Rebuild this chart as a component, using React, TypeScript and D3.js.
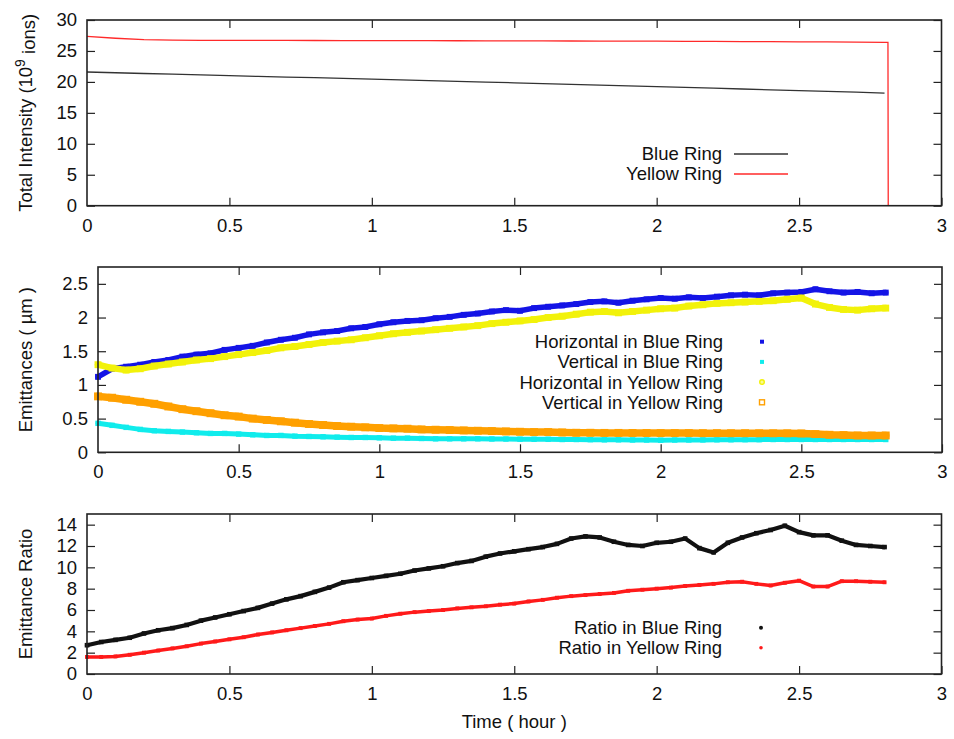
import React, { useEffect, useRef } from 'react';
import * as d3 from 'd3';

const FONT = '"Liberation Sans", Arial, Helvetica, sans-serif';

// ---- top panel: total intensity (10^9 ions)
const intensityHours = [0, 0.1, 0.2, 0.3, 0.4, 0.5, 0.6, 0.7, 0.8, 0.9, 1.0, 1.1, 1.2, 1.3, 1.4,
  1.5, 1.6, 1.7, 1.8, 1.9, 2.0, 2.1, 2.2, 2.3, 2.4, 2.5, 2.6, 2.7, 2.8];
const blueIntensity = [21.6, 21.48, 21.36, 21.24, 21.12, 21.0, 20.88, 20.78, 20.68, 20.57, 20.45,
  20.33, 20.21, 20.09, 19.97, 19.85, 19.72, 19.6, 19.48, 19.35, 19.23, 19.1, 18.98, 18.85, 18.72,
  18.6, 18.47, 18.34, 18.2];
const yellowIntensity = [27.35, 27.05, 26.82, 26.74, 26.72, 26.71, 26.7, 26.7, 26.69, 26.68, 26.68,
  26.67, 26.66, 26.65, 26.64, 26.63, 26.62, 26.61, 26.6, 26.59, 26.58, 26.56, 26.54, 26.52, 26.5,
  26.48, 26.46, 26.43, 26.4];
// beam dump at the end of the store
const dumpHours = [2.812, 2.813];
const dumpIntensity = [26.4, 0];

// ---- middle + bottom panels share one time grid
const hours = [0, 0.05, 0.1, 0.15, 0.2, 0.25, 0.3, 0.35, 0.4, 0.45, 0.5, 0.55, 0.6, 0.65, 0.7, 0.75,
  0.8, 0.85, 0.9, 0.95, 1.0, 1.05, 1.1, 1.15, 1.2, 1.25, 1.3, 1.35, 1.4, 1.45, 1.5, 1.55, 1.6, 1.65,
  1.7, 1.75, 1.8, 1.85, 1.9, 1.95, 2.0, 2.05, 2.1, 2.15, 2.2, 2.25, 2.3, 2.35, 2.4, 2.45, 2.5, 2.55,
  2.6, 2.65, 2.7, 2.75, 2.8];

const hBlue = [1.12, 1.24, 1.27, 1.3, 1.34, 1.37, 1.42, 1.45, 1.47, 1.52, 1.55, 1.58, 1.63, 1.67,
  1.7, 1.75, 1.78, 1.8, 1.84, 1.86, 1.9, 1.93, 1.95, 1.96, 1.99, 2.01, 2.04, 2.06, 2.09, 2.11, 2.1,
  2.14, 2.16, 2.18, 2.2, 2.23, 2.24, 2.22, 2.25, 2.27, 2.29, 2.28, 2.3, 2.29, 2.31, 2.33, 2.34, 2.33,
  2.36, 2.37, 2.38, 2.42, 2.39, 2.37, 2.38, 2.36, 2.37];
const vBlue = [0.43, 0.4, 0.37, 0.34, 0.32, 0.31, 0.3, 0.29, 0.28, 0.28, 0.27, 0.26, 0.25, 0.25,
  0.24, 0.235, 0.23, 0.225, 0.22, 0.22, 0.215, 0.21, 0.21, 0.205, 0.2, 0.2, 0.2, 0.2, 0.198, 0.197,
  0.195, 0.194, 0.193, 0.19, 0.19, 0.188, 0.185, 0.185, 0.183, 0.182, 0.18, 0.182, 0.183, 0.184,
  0.185, 0.186, 0.187, 0.188, 0.19, 0.19, 0.19, 0.19, 0.19, 0.19, 0.19, 0.19, 0.19];
const hYellow = [1.3, 1.25, 1.22, 1.24, 1.28, 1.31, 1.34, 1.37, 1.39, 1.42, 1.45, 1.48, 1.51, 1.55,
  1.57, 1.6, 1.63, 1.65, 1.67, 1.7, 1.73, 1.76, 1.78, 1.8, 1.82, 1.84, 1.86, 1.88, 1.91, 1.93, 1.95,
  1.97, 2.0, 2.02, 2.05, 2.08, 2.09, 2.07, 2.09, 2.11, 2.13, 2.14, 2.17, 2.19, 2.21, 2.22, 2.23, 2.24,
  2.25, 2.27, 2.29, 2.2, 2.15, 2.12, 2.11, 2.13, 2.14];
const vYellow = [0.83, 0.81, 0.78, 0.75, 0.72, 0.68, 0.64, 0.61, 0.58, 0.55, 0.53, 0.5, 0.48, 0.46,
  0.44, 0.42, 0.405, 0.39, 0.38, 0.37, 0.36, 0.355, 0.35, 0.34, 0.335, 0.33, 0.325, 0.32, 0.315,
  0.31, 0.305, 0.3, 0.3, 0.295, 0.29, 0.29, 0.288, 0.288, 0.287, 0.286, 0.285, 0.285, 0.285, 0.284,
  0.284, 0.283, 0.283, 0.282, 0.282, 0.281, 0.28, 0.27, 0.26, 0.255, 0.25, 0.25, 0.25];

const ratioBlue = [2.7, 3.0, 3.2, 3.4, 3.8, 4.1, 4.3, 4.6, 5.0, 5.3, 5.6, 5.9, 6.2, 6.6, 7.0, 7.3,
  7.7, 8.1, 8.6, 8.8, 9.0, 9.2, 9.4, 9.7, 9.9, 10.1, 10.4, 10.6, 11.0, 11.3, 11.5, 11.7, 11.9, 12.2,
  12.7, 12.9, 12.8, 12.4, 12.1, 12.0, 12.3, 12.4, 12.7, 11.8, 11.4, 12.3, 12.8, 13.2, 13.5, 13.9,
  13.3, 13.0, 13.0, 12.5, 12.1, 12.0, 11.9];
const ratioYellow = [1.6, 1.6, 1.65, 1.8, 2.0, 2.2, 2.4, 2.6, 2.85, 3.05, 3.25, 3.45, 3.7, 3.9, 4.1,
  4.3, 4.5, 4.7, 4.95, 5.1, 5.2, 5.45, 5.65, 5.8, 5.9, 6.0, 6.15, 6.25, 6.35, 6.5, 6.6, 6.8, 6.95,
  7.15, 7.3, 7.4, 7.5, 7.6, 7.8, 7.9, 8.0, 8.1, 8.25, 8.35, 8.45, 8.6, 8.65, 8.45, 8.3, 8.55, 8.75,
  8.2, 8.2, 8.7, 8.7, 8.65, 8.6];

const timeTicks = [0, 0.5, 1, 1.5, 2, 2.5, 3];
const intensityTicks = [0, 5, 10, 15, 20, 25, 30];
const emittanceTicks = [0, 0.5, 1, 1.5, 2, 2.5];
const ratioTicks = [0, 2, 4, 6, 8, 10, 12, 14];

type Sel = d3.Selection<SVGGElement, unknown, null, undefined>;

// frame + inward ticks on all four sides, like gnuplot's default border
function drawFrame(g: Sel, x: d3.ScaleLinear<number, number>, y: d3.ScaleLinear<number, number>, yTicks: number[]) {
  const [x0, x1] = x.range();
  const [y0, y1] = y.range();
  const fmt = (d: d3.NumberValue) => String(+d);

  const bottom = g.append('g').attr('transform', `translate(0,${y0})`)
    .call(d3.axisBottom(x).tickValues(timeTicks).tickSize(-8).tickPadding(13).tickFormat(fmt));
  const top = g.append('g').attr('transform', `translate(0,${y1})`)
    .call(d3.axisTop(x).tickValues(timeTicks.slice(1, -1)).tickSize(-8).tickFormat(() => ''));
  const left = g.append('g').attr('transform', `translate(${x0},0)`)
    .call(d3.axisLeft(y).tickValues(yTicks).tickSize(-8).tickPadding(10).tickFormat(fmt));
  const right = g.append('g').attr('transform', `translate(${x1},0)`)
    .call(d3.axisRight(y).tickValues(yTicks).tickSize(-8).tickFormat(() => ''));

  [bottom, top, left, right].forEach(a => {
    a.select('.domain').remove();
    a.selectAll('line').attr('stroke', '#222').attr('stroke-width', 1.2);
    a.selectAll('text').attr('font-family', FONT).attr('font-size', 18.5).attr('fill', '#111');
  });
  bottom.select('.tick line').remove();

  g.append('rect')
    .attr('x', x0).attr('y', y1)
    .attr('width', x1 - x0).attr('height', y0 - y1)
    .attr('fill', 'none').attr('stroke', '#222').attr('stroke-width', 1.6);
}

function yTitle(g: Sel, y: d3.ScaleLinear<number, number>, text: string) {
  const [y0, y1] = y.range();
  return g.append('text')
    .attr('transform', `translate(26,${(y0 + y1) / 2}) rotate(-90)`)
    .attr('text-anchor', 'middle')
    .attr('dy', '0.35em')
    .attr('font-family', FONT).attr('font-size', 18.5).attr('fill', '#111')
    .text(text);
}

function legendText(g: Sel, x: number, y: number, text: string) {
  g.append('text')
    .attr('x', x).attr('y', y).attr('dy', '0.35em')
    .attr('text-anchor', 'end')
    .attr('font-family', FONT).attr('font-size', 18.5).attr('fill', '#111')
    .text(text);
}

// dense scatter drawn as a thick band with a marker at every sample
function band(g: Sel, x: d3.ScaleLinear<number, number>, y: d3.ScaleLinear<number, number>,
  xs: number[], ys: number[], color: string, width: number) {
  const pts = xs.map((t, i) => [t, ys[i]] as [number, number]);
  g.append('path')
    .attr('d', d3.line<[number, number]>().x(d => x(d[0])).y(d => y(d[1])).curve(d3.curveLinear)(pts))
    .attr('fill', 'none').attr('stroke', color).attr('stroke-width', width)
    .attr('stroke-linejoin', 'round').attr('stroke-linecap', 'round');
  const s = width + 0.4;
  g.append('g').selectAll('rect').data(pts).enter().append('rect')
    .attr('x', d => x(d[0]) - s / 2)
    .attr('y', d => y(d[1]) - s / 2)
    .attr('width', s).attr('height', s)
    .attr('fill', color);
}

export default function App() {
  const svgRef = useRef<SVGSVGElement>(null);

  useEffect(() => {
    const svg = d3.select(svgRef.current);
    svg.selectAll('*').remove();
    const root = svg.append('g') as unknown as Sel;

    // ===== top: total intensity
    const x1 = d3.scaleLinear().domain([0, 3]).range([87, 941.5]);
    const y1 = d3.scaleLinear().domain([0, 30]).range([205.7, 20]);
    const gTop = root.append('g');
    const line = d3.line<[number, number]>().x(d => x1(d[0])).y(d => y1(d[1]));
    gTop.append('path')
      .attr('d', line(intensityHours.map((t, i) => [t, blueIntensity[i]])))
      .attr('fill', 'none').attr('stroke', '#333').attr('stroke-width', 1.3);
    gTop.append('path')
      .attr('d', line([...intensityHours, ...dumpHours].map((t, i) =>
        [t, [...yellowIntensity, ...dumpIntensity][i]])))
      .attr('fill', 'none').attr('stroke', '#ff2a2a').attr('stroke-width', 1.3);
    drawFrame(gTop, x1, y1, intensityTicks);
    const t1 = yTitle(gTop, y1, '');
    t1.append('tspan').text('Total Intensity (10');
    t1.append('tspan').attr('dy', '-0.5em').attr('font-size', 14).text('9');
    t1.append('tspan').attr('dy', '0.5em').text(' ions)');

    legendText(gTop, 722, 154, 'Blue Ring');
    legendText(gTop, 722, 174, 'Yellow Ring');
    gTop.append('line').attr('x1', 734).attr('x2', 788).attr('y1', 154).attr('y2', 154)
      .attr('stroke', '#333').attr('stroke-width', 1.3);
    gTop.append('line').attr('x1', 734).attr('x2', 788).attr('y1', 174).attr('y2', 174)
      .attr('stroke', '#ff2a2a').attr('stroke-width', 1.3);

    // ===== middle: emittances
    const x2 = d3.scaleLinear().domain([0, 3]).range([98, 942]);
    const y2 = d3.scaleLinear().domain([0, 2.75]).range([452.3, 267]);
    const gMid = root.append('g');
    band(gMid, x2, y2, hours, hBlue, '#1414e6', 5.5);
    band(gMid, x2, y2, hours, vBlue, '#10ecec', 5);
    band(gMid, x2, y2, hours, hYellow, '#f2f20a', 6.5);
    band(gMid, x2, y2, hours, vYellow, '#ffa000', 7.5);
    drawFrame(gMid, x2, y2, emittanceTicks);
    yTitle(gMid, y2, 'Emittances ( \u00b5m )');

    const midRows = [
      { label: 'Horizontal in Blue Ring', color: '#1414e6', shape: 'fsq' },
      { label: 'Vertical in Blue Ring', color: '#10ecec', shape: 'fsq' },
      { label: 'Horizontal in Yellow Ring', color: '#f2f20a', shape: 'circ' },
      { label: 'Vertical in Yellow Ring', color: '#ffa000', shape: 'osq' },
    ];
    midRows.forEach((r, i) => {
      const yy = 341.7 + i * 20.2;
      legendText(gMid, 723, yy, r.label);
      if (r.shape === 'circ') {
        gMid.append('circle').attr('cx', 762).attr('cy', yy).attr('r', 2.3)
          .attr('fill', '#fafa90').attr('stroke', r.color).attr('stroke-width', 1.4);
      } else if (r.shape === 'osq') {
        gMid.append('rect').attr('x', 759.5).attr('y', yy - 2.5).attr('width', 5).attr('height', 5)
          .attr('fill', '#fff').attr('stroke', r.color).attr('stroke-width', 1.4);
      } else {
        gMid.append('rect').attr('x', 760).attr('y', yy - 2).attr('width', 4).attr('height', 4)
          .attr('fill', r.color);
      }
    });

    // ===== bottom: emittance ratio
    const x3 = d3.scaleLinear().domain([0, 3]).range([87, 941.5]);
    const y3 = d3.scaleLinear().domain([0, 15]).range([674, 514]);
    const gBot = root.append('g');
    band(gBot, x3, y3, hours, ratioBlue, '#111', 4.2);
    band(gBot, x3, y3, hours, ratioYellow, '#ff1a1a', 3.5);
    drawFrame(gBot, x3, y3, ratioTicks);
    yTitle(gBot, y3, 'Emittance Ratio');

    legendText(gBot, 722, 627.7, 'Ratio in Blue Ring');
    legendText(gBot, 722, 647.7, 'Ratio in Yellow Ring');
    gBot.append('circle').attr('cx', 761).attr('cy', 627.7).attr('r', 2).attr('fill', '#111');
    gBot.append('circle').attr('cx', 761).attr('cy', 647.7).attr('r', 1.8).attr('fill', '#ff1a1a');

    // x-axis title
    root.append('text')
      .attr('x', x3(1.5)).attr('y', 722).attr('dy', '0.35em')
      .attr('text-anchor', 'middle')
      .attr('font-family', FONT).attr('font-size', 18.5).attr('fill', '#111')
      .text('Time ( hour )');
  }, []);

  return (
    <svg ref={svgRef} width={954} height={739}
      style={{ position: 'absolute', left: 0, top: 0, background: '#fff' }} />
  );
}
